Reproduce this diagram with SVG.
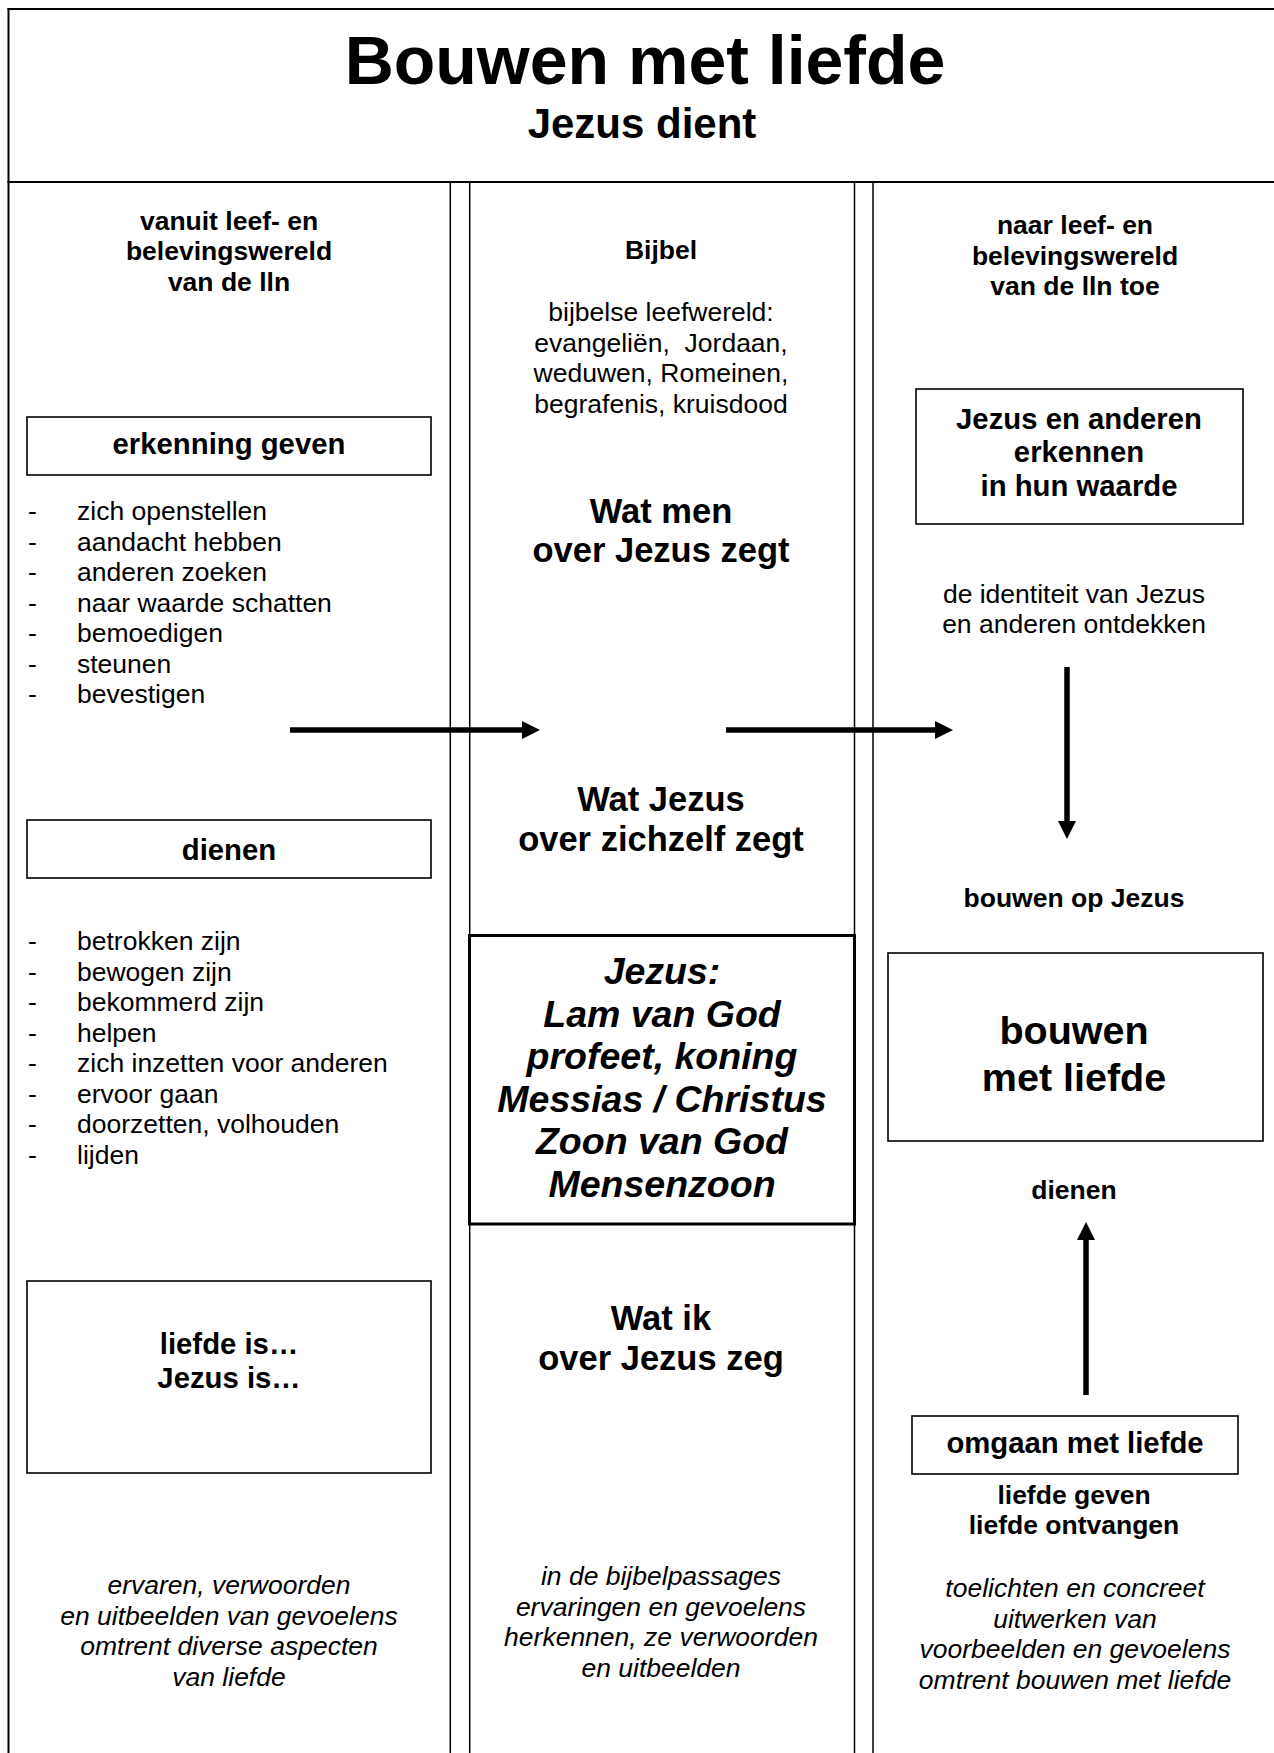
<svg xmlns="http://www.w3.org/2000/svg" width="1274" height="1753" viewBox="0 0 1274 1753">
<defs>
<style>
text{font-family:"Liberation Sans",Arial,sans-serif;fill:#000;text-anchor:middle}
.b{font-weight:bold}
.i{font-style:italic}
.r{font-size:26.5px}
.h{font-size:26.5px;font-weight:bold}
.bx{font-size:29.3px;font-weight:bold}
.q{font-size:34.5px;font-weight:bold}
.jz{font-size:37.5px;font-weight:bold;font-style:italic}
.big{font-size:39.5px;font-weight:bold}
.lst{text-anchor:start;font-size:26.5px}
.it{font-size:26.5px;font-style:italic}
.frame{stroke:#000;stroke-width:2;fill:none}
.col{stroke:#000;stroke-width:1.5;fill:none}
.box{fill:#fff;stroke:#000;stroke-width:1.6}
.arr{stroke:#000;stroke-width:5.5;fill:none;marker-end:url(#ah)}
</style>
<marker id="ah" markerUnits="userSpaceOnUse" markerWidth="18" markerHeight="18" viewBox="0 0 18 18" refX="0" refY="9" orient="auto">
<path d="M0,0 L18,9 L0,18 z" fill="#000"/>
</marker>
</defs>
<rect width="1274" height="1753" fill="#fff"/>

<g id="frame">
<line class="frame" x1="7.5" y1="9" x2="1274" y2="9"/>
<line class="frame" x1="8.5" y1="8" x2="8.5" y2="1753"/>
<line class="frame" x1="7.5" y1="182" x2="1274" y2="182"/>
<line class="col" x1="450.3" y1="182" x2="450.3" y2="1753"/>
<line class="col" x1="469.7" y1="182" x2="469.7" y2="1753"/>
<line class="col" x1="854.5" y1="182" x2="854.5" y2="1753"/>
<line class="col" x1="873" y1="182" x2="873" y2="1753"/>
</g>

<g id="title">
<text x="645" y="84" class="b" style="font-size:68px">Bouwen met liefde</text>
<text x="642" y="138" class="b" style="font-size:42px">Jezus dient</text>
</g>

<g id="header-left">
<text class="h" x="229" y="229.5">vanuit leef- en</text>
<text class="h" x="229" y="260">belevingswereld</text>
<text class="h" x="229" y="290.5">van de lln</text>
</g>

<g id="header-mid">
<text class="h" x="661" y="259">Bijbel</text>
<text class="r" x="661" y="321">bijbelse leefwereld:</text>
<text class="r" x="661" y="351.5" xml:space="preserve">evangeliën,  Jordaan,</text>
<text class="r" x="661" y="382">weduwen, Romeinen,</text>
<text class="r" x="661" y="412.5">begrafenis, kruisdood</text>
</g>

<g id="header-right">
<text class="h" x="1075" y="234">naar leef- en</text>
<text class="h" x="1075" y="264.5">belevingswereld</text>
<text class="h" x="1075" y="295">van de lln toe</text>
</g>

<g id="erkenning-geven">
<rect class="box" x="27" y="417" width="404" height="58"/>
<text class="bx" x="229" y="454">erkenning geven</text>
</g>

<g id="list-erkenning">
<text class="lst" x="28" y="520">-</text><text class="lst" x="77" y="520">zich openstellen</text>
<text class="lst" x="28" y="550.5">-</text><text class="lst" x="77" y="550.5">aandacht hebben</text>
<text class="lst" x="28" y="581">-</text><text class="lst" x="77" y="581">anderen zoeken</text>
<text class="lst" x="28" y="611.5">-</text><text class="lst" x="77" y="611.5">naar waarde schatten</text>
<text class="lst" x="28" y="642">-</text><text class="lst" x="77" y="642">bemoedigen</text>
<text class="lst" x="28" y="672.5">-</text><text class="lst" x="77" y="672.5">steunen</text>
<text class="lst" x="28" y="703">-</text><text class="lst" x="77" y="703">bevestigen</text>
</g>

<g id="dienen-left">
<rect class="box" x="27" y="820" width="404" height="58"/>
<text class="bx" x="229" y="859.5">dienen</text>
</g>

<g id="list-dienen">
<text class="lst" x="28" y="950">-</text><text class="lst" x="77" y="950">betrokken zijn</text>
<text class="lst" x="28" y="980.5">-</text><text class="lst" x="77" y="980.5">bewogen zijn</text>
<text class="lst" x="28" y="1011">-</text><text class="lst" x="77" y="1011">bekommerd zijn</text>
<text class="lst" x="28" y="1041.5">-</text><text class="lst" x="77" y="1041.5">helpen</text>
<text class="lst" x="28" y="1072">-</text><text class="lst" x="77" y="1072">zich inzetten voor anderen</text>
<text class="lst" x="28" y="1102.5">-</text><text class="lst" x="77" y="1102.5">ervoor gaan</text>
<text class="lst" x="28" y="1133">-</text><text class="lst" x="77" y="1133">doorzetten, volhouden</text>
<text class="lst" x="28" y="1163.5">-</text><text class="lst" x="77" y="1163.5">lijden</text>
</g>

<g id="liefde-is">
<rect class="box" x="27" y="1281" width="404" height="192"/>
<text class="bx" x="229" y="1354">liefde is…</text>
<text class="bx" x="229" y="1387.5">Jezus is…</text>
</g>

<g id="bottom-left">
<text class="it" x="229" y="1594">ervaren, verwoorden</text>
<text class="it" x="229" y="1624.5">en uitbeelden van gevoelens</text>
<text class="it" x="229" y="1655">omtrent diverse aspecten</text>
<text class="it" x="229" y="1685.5">van liefde</text>
</g>

<g id="wat-men">
<text class="q" x="661" y="523">Wat men</text>
<text class="q" x="661" y="562">over Jezus zegt</text>
</g>

<g id="wat-jezus">
<text class="q" x="661" y="811">Wat Jezus</text>
<text class="q" x="661" y="850.5">over zichzelf zegt</text>
</g>

<g id="jezus-box">
<rect x="469.5" y="935.5" width="385" height="288.5" fill="#fff" stroke="#000" stroke-width="3"/>
<text class="jz" x="662" y="984">Jezus:</text>
<text class="jz" x="662" y="1026.5">Lam van God</text>
<text class="jz" x="662" y="1069">profeet, koning</text>
<text class="jz" x="662" y="1111.5">Messias / Christus</text>
<text class="jz" x="662" y="1154">Zoon van God</text>
<text class="jz" x="662" y="1196.5">Mensenzoon</text>
</g>

<g id="wat-ik">
<text class="q" x="661" y="1330">Wat ik</text>
<text class="q" x="661" y="1369.5">over Jezus zeg</text>
</g>

<g id="bottom-mid">
<text class="it" x="661" y="1585">in de bijbelpassages</text>
<text class="it" x="661" y="1615.5">ervaringen en gevoelens</text>
<text class="it" x="661" y="1646">herkennen, ze verwoorden</text>
<text class="it" x="661" y="1676.5">en uitbeelden</text>
</g>

<g id="erkennen-box">
<rect class="box" x="916" y="389" width="327" height="135"/>
<text class="bx" x="1079" y="428.5">Jezus en anderen</text>
<text class="bx" x="1079" y="462">erkennen</text>
<text class="bx" x="1079" y="495.5">in hun waarde</text>
</g>

<g id="identiteit">
<text class="r" x="1074" y="602.5">de identiteit van Jezus</text>
<text class="r" x="1074" y="633">en anderen ontdekken</text>
</g>

<g id="bouwen-op-jezus">
<text class="h" x="1074" y="906.5">bouwen op Jezus</text>
</g>

<g id="bouwen-box">
<rect class="box" x="888" y="953" width="375" height="188" stroke-width="2"/>
<text class="big" x="1074" y="1044">bouwen</text>
<text class="big" x="1074" y="1091">met liefde</text>
</g>

<g id="dienen-right">
<text class="h" x="1074" y="1198.5">dienen</text>
</g>

<g id="omgaan-box">
<rect class="box" x="912" y="1416" width="326" height="58"/>
<text class="bx" x="1075" y="1452.5">omgaan met liefde</text>
</g>

<g id="liefde-geven">
<text class="h" x="1074" y="1504">liefde geven</text>
<text class="h" x="1074" y="1534">liefde ontvangen</text>
</g>

<g id="bottom-right">
<text class="it" x="1075" y="1597">toelichten en concreet</text>
<text class="it" x="1075" y="1627.5">uitwerken van</text>
<text class="it" x="1075" y="1658">voorbeelden en gevoelens</text>
<text class="it" x="1075" y="1688.5">omtrent bouwen met liefde</text>
</g>

<g id="connectors">
<line class="arr" x1="290" y1="730" x2="522" y2="730"/>
<line class="arr" x1="726" y1="730" x2="935" y2="730"/>
<line class="arr" x1="1067" y1="667" x2="1067" y2="821"/>
<line class="arr" x1="1086" y1="1395" x2="1086" y2="1240"/>
</g>
</svg>
